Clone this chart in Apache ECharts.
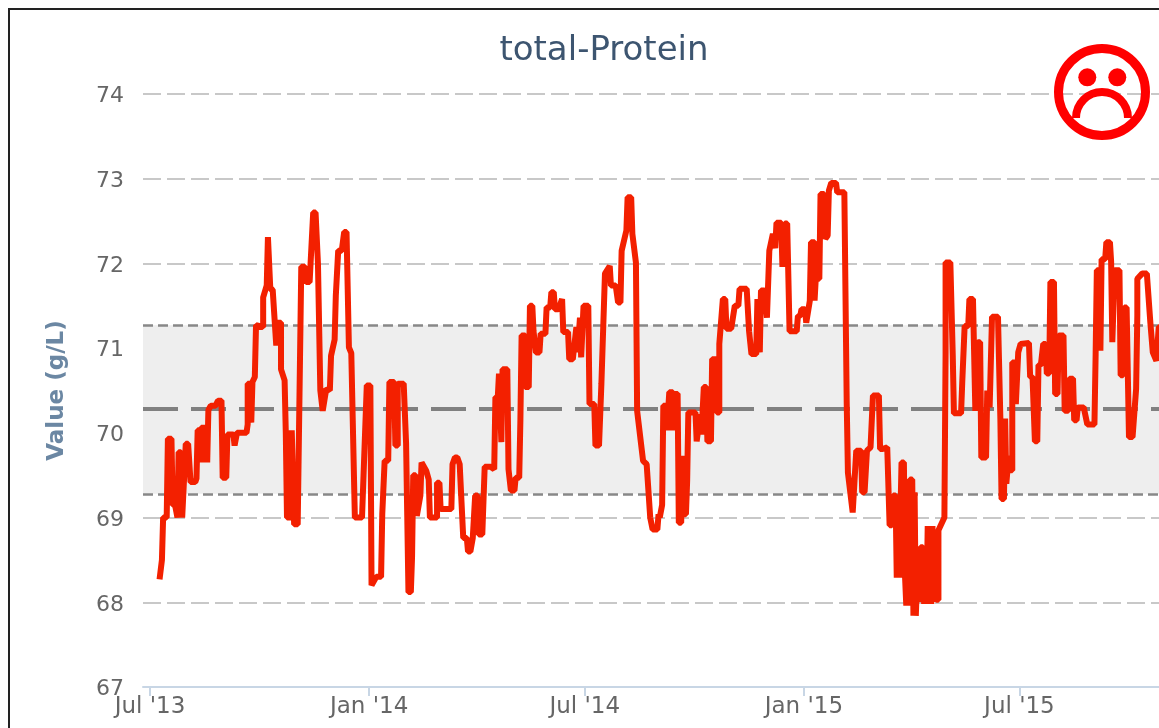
<!DOCTYPE html>
<html><head><meta charset="utf-8">
<style>html,body{margin:0;padding:0;background:#fff;overflow:hidden}#c{width:1159px;height:728px}</style>
<script src="https://cdn.jsdelivr.net/npm/echarts@6/dist/echarts.min.js"></script>
</head><body><div id="c"></div>
<script>
const chartTitle = 'total-Protein';
const yAxisName = 'Value (g/L)';
const upperLimit = 71.27;
const meanValue = 70.29;
const lowerLimit = 69.28;
const yTicks = [67,68,69,70,71,72,73,74];
const xTickLabels = ["Jul '13","Jan '14","Jul '14","Jan '15","Jul '15"];
const xTickDays = [0,184,365,549,730];
// days since 1 Jul 2013
const days = [
8,10,11,14,15,18,19,21,23,24,26,27,30,32,34,38,39,40,42,43,43,47,48,49,51,55,57,60,61,64,
65,70,71,72,73,81,82,82,84,85,86,88,89,95,95,98,99,101,103,106,107,110,110,113,114,115,118,119,120,121,
124,127,130,131,134,137,139,141,143,145,146,148,151,152,155,156,157,158,161,163,165,167,169,170,172,178,182,185,186,190,
194,195,197,200,201,205,206,208,208,213,215,217,219,220,221,223,224,227,228,232,234,235,241,241,243,244,253,254,256,258,
260,261,263,266,267,269,271,273,275,276,279,281,286,289,290,292,293,295,296,300,301,303,306,307,310,311,312,315,315,318,
319,321,322,324,327,328,332,333,336,337,339,340,343,346,347,351,352,355,358,359,361,362,364,368,369,373,374,377,379,382,
386,387,391,393,395,396,400,401,404,405,408,409,414,417,420,422,426,427,428,430,431,434,434,436,439,439,441,443,444,446,
447,448,450,451,452,458,459,460,462,463,465,467,468,471,472,476,476,478,478,481,483,484,488,491,494,495,501,503,505,509,
510,512,513,513,516,518,520,523,525,526,530,531,533,535,537,543,544,546,547,550,551,554,555,558,558,559,562,563,566,567,
569,570,572,576,577,583,585,586,590,591,593,597,598,600,602,605,607,612,613,615,616,619,621,623,
624,626,627,628,629,630,631,633,634,635,636,637,638,640,641,642,643,644,645,646,647,649,650,651,652,653,654,655,656,657,
658,659,660,662,662,663,667,668,668,672,674,675,681,682,683,684,687,688,691,
693,695,697,698,702,703,705,707,712,714,715,717,718,719,721,722,724,724,726,727,729,731,738,739,741,743,745,746,748,750,
752,753,755,756,759,760,762,763,767,768,771,772,775,776,778,779,784,787,793,794,795,797,798,799,802,803,806,807,808,809,
810,814,815,817,818,820,822,825,828,829,829,833,837,840,842,845,847,850
];
const values = [
68.27,68.5,69,69,69.93,69.93,69.15,69.15,69,69.77,69.77,69,69.87,69.87,69.42,69.42,69.46,70.03,70.03,69.65,70.06,70.06,69.65,70.27,70.32,70.32,70.38,70.38,69.47,69.47,
69.98,69.98,69.85,69.85,70,70,70.1,70.58,70.58,70.12,70.6,70.66,71.27,71.25,71.6,71.74,72.31,71.7,71.69,71.03,71.3,71.3,70.75,70.62,70,69,69,70.03,70.03,68.92,
68.92,71.96,71.96,71.78,71.78,72.6,72.6,72,70.5,70.26,70.26,70.52,70.5,70.91,71.1,71.62,71.6,72.15,72.15,72.37,72.37,71.01,70.94,70.94,69,69,70.56,70.56,68.2,68.3,
68.3,69.04,69.67,69.67,70.6,70.6,69.85,69.85,70.58,70.58,69.88,68.12,68.12,68.53,69.5,69.5,69.02,69.26,69.65,69.55,69.45,69,69,69.41,69.41,69.1,69.1,69.63,69.71,69.71,
69.63,69.61,68.76,68.76,68.6,68.6,68.76,69.26,69.26,68.8,68.8,69.6,69.6,69.57,70.42,70.42,70.7,69.89,70.75,70.75,69.57,69.32,69.32,69.47,69.47,70.16,71.15,71.15,70.54,70.54,
71.5,71.5,71.2,70.95,70.95,71.17,71.17,71.48,71.48,71.66,71.66,71.46,71.46,71.58,71.19,71.19,70.87,70.87,71.25,70.95,71.36,70.89,71.5,71.5,70.34,70.34,69.85,69.85,70.58,71.88,
71.97,71.74,71.74,71.54,71.54,72.15,72.39,72.78,72.78,72.35,72.01,70.26,69.67,69.63,69,68.86,68.86,69.04,69,69.15,70.32,70.32,70.03,70.48,70.48,70.03,70.46,70.46,68.94,68.94,
69.73,69.04,69.04,69.43,70.24,70.24,69.9,69.9,70.22,69.98,70.54,70.54,69.9,69.9,70.87,70.87,70.24,70.24,71.05,71.58,71.58,71.23,71.23,71.5,71.5,71.7,71.7,71.2,70.93,70.93,
71.58,70.95,70.95,71.68,71.68,71.36,72.15,72.35,72.18,72.48,72.48,71.96,72.47,72.47,71.2,71.2,71.38,71.38,71.46,71.46,71.3,71.56,72.25,72.25,71.56,71.82,71.82,72.82,72.82,72.29,
72.33,72.86,72.95,72.95,72.84,72.84,70.34,69.53,69.06,69.06,69.79,69.79,69.3,69.3,69.79,69.83,70.44,70.44,69.81,69.81,69.83,69.83,68.91,68.91,
69.26,69.26,68.29,69.26,68.29,68.29,69.65,69.65,68.29,67.96,69.2,67.96,69.45,69.45,67.84,69.3,67.84,67.84,68.63,68,68.65,68.65,67.98,68.6,67.98,68.9,67.98,68.9,67.98,68.9,
68.03,68.85,68.03,68.03,68.85,68.87,69,70.93,72.01,72.01,70.93,70.23,70.23,70.6,70.6,71.26,71.26,71.58,71.58,
70.26,71.07,71.07,69.71,69.71,70.5,70.3,71.37,71.37,70.17,69.22,69.22,70.17,69.4,69.73,69.56,69.56,70.83,70.83,70.34,70.95,71.05,71.06,70.66,70.66,69.9,69.9,70.8,70.8,71.05,
71.05,70.7,70.7,71.78,71.78,70.46,70.46,71.15,71.15,70.26,70.26,70.64,70.64,70.15,70.15,70.3,70.3,70.1,70.1,70.93,71.92,71.92,70.97,72.05,72.05,72.25,72.25,72.02,71.07,71.07,
71.92,71.92,70.68,70.68,71.48,71.48,69.95,69.95,70.52,71.39,71.82,71.88,71.88,71.29,70.95,70.85,71.25,71.25
];
const labelFont = 'DejaVu Sans';
const seriesData = days.map((d,i) => [d, values[i]]);
const chart = echarts.init(document.getElementById('c'), null, {renderer:'canvas'});
chart.setOption({
  animation:false,
  backgroundColor:'#ffffff',
  title:{text:chartTitle,left:599,top:29,textAlign:'center',
    textStyle:{color:'#3d5570',fontFamily:labelFont,fontSize:34,fontWeight:'normal'}},
  grid:{left:143,top:94,right:0,bottom:41,containLabel:false},
  xAxis:{type:'value',min:-5.9,max:847.2,
    axisLine:{show:true,onZero:false,lineStyle:{color:'#c8d6e5',width:2}},
    axisTick:{show:true,customValues:xTickDays,length:9,lineStyle:{color:'#c8d6e5',width:2}},
    axisLabel:{customValues:xTickDays,margin:9,color:'#666666',fontFamily:labelFont,fontSize:23,hideOverlap:false,
      formatter:v=>{const i=xTickDays.indexOf(v);return i>=0?xTickLabels[i]:'';}},
    splitLine:{show:false}},
  yAxis:{type:'value',min:yTicks[0],max:yTicks[yTicks.length-1],interval:1,
    name:yAxisName,nameLocation:'middle',nameGap:74,nameRotate:90,
    nameTextStyle:{color:'#6b87a3',fontFamily:labelFont,fontSize:23,fontWeight:'bold'},
    axisLine:{show:false},axisTick:{show:false},
    axisLabel:{margin:19,color:'#666666',fontFamily:labelFont,fontSize:22,showMinLabel:true,verticalAlign:'top',lineHeight:5},
    splitLine:{show:true,showMinLine:false,lineStyle:{color:'#c8c8c8',width:2,type:[18,6]}}},
  series:[
    {name:'band',type:'line',data:[],silent:true,z:1,
     markArea:{silent:true,itemStyle:{color:'#eeeeee'},data:[[{yAxis:lowerLimit},{yAxis:upperLimit}]]},
     markLine:{silent:true,symbol:'none',label:{show:false},animation:false,data:[
       {yAxis:upperLimit,lineStyle:{color:'#888888',width:2.5,type:[10,5]}},
       {yAxis:lowerLimit,lineStyle:{color:'#888888',width:2.5,type:[10,5]}},
       {yAxis:meanValue,lineStyle:{color:'#808080',width:4,type:[35,13]}}]}},
    {name:chartTitle,type:'line',data:seriesData,showSymbol:false,z:5,clip:true,
     lineStyle:{color:'#f32000',width:6,join:'bevel'},itemStyle:{color:'#f32000'}}
  ],
  graphic:[
    {type:'line',z:100,silent:true,shape:{x1:9,y1:9,x2:9,y2:728},style:{stroke:'#222222',lineWidth:2}},
    {type:'line',z:100,silent:true,shape:{x1:8,y1:9,x2:1159,y2:9},style:{stroke:'#222222',lineWidth:2}},
    {type:'circle',z:100,silent:true,shape:{cx:1102,cy:92,r:43.5},style:{fill:'none',stroke:'#ff0000',lineWidth:9}},
    {type:'circle',z:101,silent:true,shape:{cx:1087.3,cy:77.3,r:9},style:{fill:'#ff0000'}},
    {type:'circle',z:101,silent:true,shape:{cx:1117.3,cy:77.3,r:9},style:{fill:'#ff0000'}},
    {type:'arc',z:101,silent:true,shape:{cx:1102,cy:118,r:26,startAngle:Math.PI,endAngle:2*Math.PI},style:{fill:'none',stroke:'#ff0000',lineWidth:8}}
  ]
});
</script></body></html>
